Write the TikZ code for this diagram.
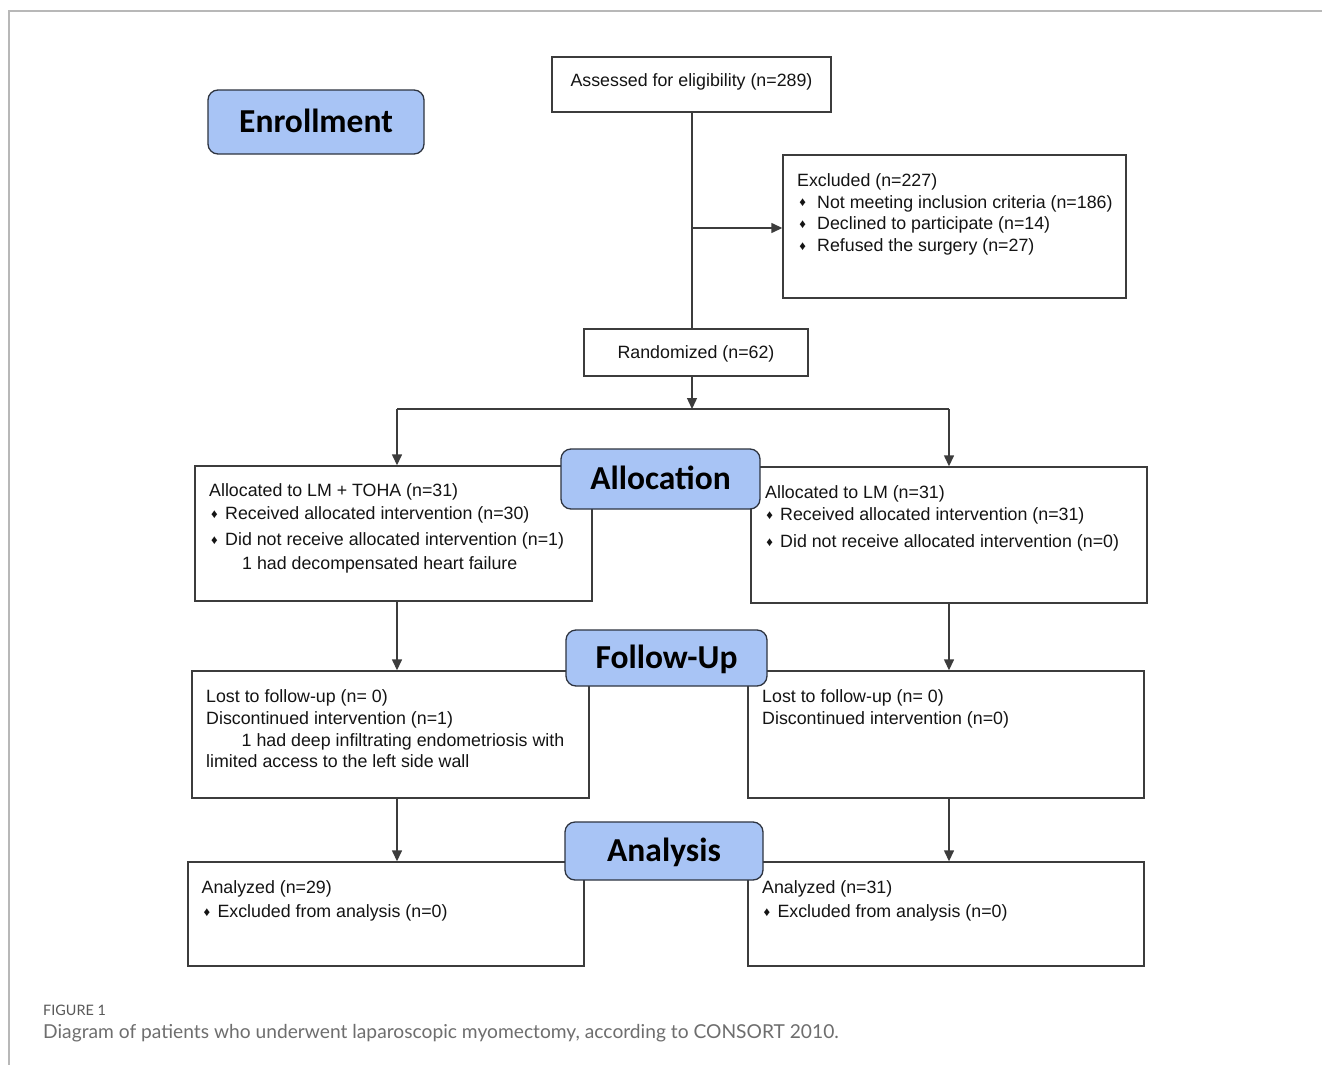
\documentclass[tikz,border=0pt]{standalone}
\usepackage{fontspec}
\setmainfont{Liberation Sans}
\newfontfamily\hdfont{Carlito}
\newfontfamily\capfont{Lato}
\usetikzlibrary{arrows.meta}
\definecolor{boxline}{HTML}{3C3C3C}
\definecolor{lblfill}{HTML}{A8C4F5}
\definecolor{lblline}{HTML}{2E3440}
\definecolor{framegray}{HTML}{B8B8B8}
\definecolor{capgray}{HTML}{6E6E6E}
\newcommand\dmd[1]{\makebox[0pt]{\raisebox{1.2pt}{\fontsize{13}{13}\selectfont ♦}}\hspace{#1}}
\tikzset{
  box/.style={draw=boxline, line width=1.4pt, fill=white, inner sep=0pt},
  lbl/.style={draw=lblline, line width=1.3pt, fill=lblfill, rounded corners=10pt, inner sep=0pt,
    font=\hdfont\bfseries\fontsize{33.5}{33.5}\selectfont, text height=21.5pt, text depth=0pt},
  txt/.style={anchor=base west, inner sep=0pt, font=\fontsize{17.8}{20}\selectfont, text=black!92},
  ctxt/.style={anchor=base, inner sep=0pt, font=\fontsize{17.8}{20}\selectfont, text=black!92},
  conn/.style={draw=boxline, line width=1.4pt},
  arr/.style={conn, -{Triangle[length=11pt,width=10pt]}}
}
\begin{document}
\begin{tikzpicture}[x=1pt,y=-1pt]
\useasboundingbox (0,0) rectangle (1322,1065);
\fill[white] (0,0) rectangle (1322,1065);
\draw[framegray, line width=2pt] (9,1065) -- (9,11) -- (1322,11);

% boxes
\node[box, minimum width=279pt, minimum height=55pt] (assess) at (691.5,84.5) {};
\node[box, minimum width=343pt, minimum height=143pt] (excl) at (954.5,226.5) {};
\node[box, minimum width=224pt, minimum height=47pt] (rand) at (696,352.5) {};
\node[box, minimum width=397pt, minimum height=135pt] (la) at (393.5,533.5) {};
\node[box, minimum width=396pt, minimum height=136pt] (ra) at (949,535) {};
\node[box, minimum width=397pt, minimum height=127pt] (lf) at (390.5,734.5) {};
\node[box, minimum width=396pt, minimum height=127pt] (rf) at (946,734.5) {};
\node[box, minimum width=396pt, minimum height=104pt] (lan) at (386,914) {};
\node[box, minimum width=396pt, minimum height=104pt] (ran) at (946,914) {};

% connectors
\coordinate (mid) at (692,409);
\coordinate (sl) at (397,409);
\coordinate (sr) at (949,409);
\coordinate (br) at (692,228);
\draw[conn] (mid |- assess.south) -- (mid |- rand.north);
\draw[arr] (br) -- (br -| excl.west);
\draw[arr] (mid |- rand.south) -- (mid);
\draw[conn] (sl) -- (sr);
\draw[arr] (sl) -- (sl |- la.north);
\draw[arr] (sr) -- (sr |- ra.north);
\draw[arr] (sl |- la.south) -- (sl |- lf.north);
\draw[arr] (sr |- ra.south) -- (sr |- rf.north);
\draw[arr] (sl |- lf.south) -- (sl |- lan.north);
\draw[arr] (sr |- rf.south) -- (sr |- ran.north);

% section labels
\node[lbl, minimum width=216pt, minimum height=64pt] (enr) at (316,122) {Enrollment};
\node[lbl, minimum width=199pt, minimum height=60pt] (alloc) at (660.5,479) {Allocation};
\node[lbl, minimum width=201pt, minimum height=56pt] (fu) at (666.5,658) {Follow-Up};
\node[lbl, minimum width=198pt, minimum height=58pt] (an) at (664,851) {Analysis};

% texts
\node[ctxt] (tassess) at (691.5,86.5) {Assessed for eligibility (n=289)};
\node[txt] (tex1) at (797,186.5) {Excluded (n=227)};
\node[txt] (tex2) at (802.5,208) {\dmd{14.5pt}Not meeting inclusion criteria (n=186)};
\node[txt] (tex3) at (802.5,229.5) {\dmd{14.5pt}Declined to participate (n=14)};
\node[txt] (tex4) at (802.5,251.5) {\dmd{14.5pt}Refused the surgery (n=27)};
\node[ctxt] (trand) at (696,358.5) {Randomized (n=62)};

\node[txt] (tla1) at (209,496.5) {Allocated to LM + TOHA (n=31)};
\node[txt] (tla2) at (214.3,519.5) {\dmd{10.7pt}Received allocated intervention (n=30)};
\node[txt] (tla3) at (214.3,545.5) {\dmd{10.7pt}Did not receive allocated intervention (n=1)};
\node[txt] (tla4) at (242,569.5) {1 had decompensated heart failure};

\node[txt] (tra1) at (765,498.5) {Allocated to LM (n=31)};
\node[txt] (tra2) at (769.5,520.5) {\dmd{10.5pt}Received allocated intervention (n=31)};
\node[txt] (tra3) at (769.5,547.5) {\dmd{10.5pt}Did not receive allocated intervention (n=0)};

\node[txt] (tlf1) at (206,702.5) {Lost to follow-up (n= 0)};
\node[txt] (tlf2) at (206,724.5) {Discontinued intervention (n=1)};
\node[txt] (tlf3) at (241.5,746.5) {1 had deep infiltrating endometriosis with};
\node[txt] (tlf4) at (206,767.5) {limited access to the left side wall};

\node[txt] (trf1) at (762,702.5) {Lost to follow-up (n= 0)};
\node[txt] (trf2) at (762,724.5) {Discontinued intervention (n=0)};

\node[txt] (tlan1) at (201.5,893) {Analyzed (n=29)};
\node[txt] (tlan2) at (206.7,917.5) {\dmd{10.6pt}Excluded from analysis (n=0)};
\node[txt] (tran1) at (762,893) {Analyzed (n=31)};
\node[txt] (tran2) at (766.7,917.5) {\dmd{10.6pt}Excluded from analysis (n=0)};

% caption
\node[anchor=base west, inner sep=0pt, text=capgray!80!black, font=\capfont\fontsize{14.4}{14.4}\selectfont] (figlbl) at (43,1015) {FIGURE 1};
\node[anchor=base west, inner sep=0pt, text=capgray, font=\capfont\fontsize{19.2}{19.2}\selectfont] (figcap) at (43,1038.5) {Diagram of patients who underwent laparoscopic myomectomy, according to CONSORT 2010.};
\end{tikzpicture}
\end{document}
